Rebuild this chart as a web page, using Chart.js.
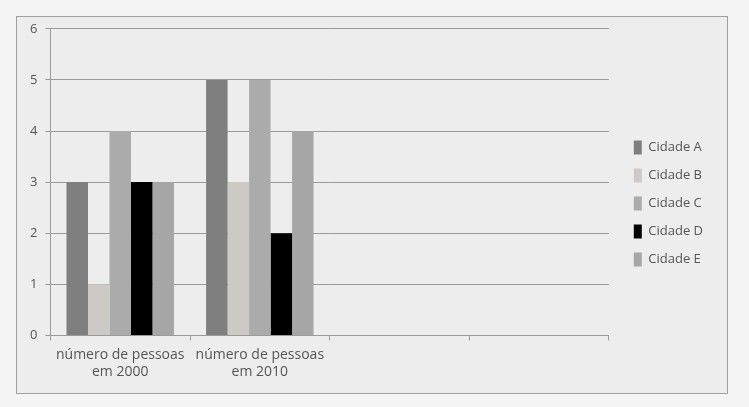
<!DOCTYPE html>
<html>
<head>
<meta charset="utf-8">
<script src="https://cdn.jsdelivr.net/npm/chart.js@4.4.1/dist/chart.umd.min.js"></script>
<style>
  html, body { margin: 0; padding: 0; background: #f4f4f4; }
  #frame {
    position: absolute; left: 16px; top: 16px;
    width: 710px; height: 376px;
    border: 1px solid #a0a0a0; background: #ededed;
  }
  #frame canvas { display: block; position: absolute; left: 0; top: -4px; }
</style>
</head>
<body>
<div id="frame"><canvas id="chart" width="710" height="380"></canvas></div>
<script>
// categories (last two slots are empty in the original)
const categories = [['número de pessoas', 'em 2000'], ['número de pessoas', 'em 2010'], '', ''];
const seriesNames = ['Cidade A', 'Cidade B', 'Cidade C', 'Cidade D', 'Cidade E'];
const cidadeA = [3, 5, null, null];
const cidadeB = [1, 3, null, null];
const cidadeC = [4, 5, null, null];
const cidadeD = [3, 2, null, null];
const cidadeE = [3, 4, null, null];
const yTicks = [0, 1, 2, 3, 4, 5, 6];

const colors = ['#7f7f7f', '#cdc9c4', '#ababab', '#000000', '#a6a6a6'];
const values = [cidadeA, cidadeB, cidadeC, cidadeD, cidadeE];

// push the legend a bit further right and down
const legendShift = {
    id: 'legendShift',
    afterLayout(chart) {
        chart.legend.left += 11;
        chart.legend.right += 11;
        chart.legend.top += 4;
        chart.legend.bottom += 4;
    }
};

const ctx = document.getElementById('chart').getContext('2d');
new Chart(ctx, {
    type: 'bar',
    data: {
        labels: categories,
        datasets: seriesNames.map((name, i) => ({
            label: name,
            data: values[i],
            backgroundColor: colors[i],
            borderWidth: 0,
            categoryPercentage: 0.77,
            barPercentage: 1.0
        }))
    },
    options: {
        responsive: false,
        animation: false,
        layout: { padding: { left: 5, top: 0, right: 25, bottom: 7 } },
        scales: {
            x: {
                grid: { display: true, drawOnChartArea: false, drawTicks: true, tickLength: 5, color: '#9a9a9a', offset: true },
                border: { color: '#9a9a9a' },
                ticks: { color: '#555', font: { family: 'Open Sans', size: 14 }, maxRotation: 0, autoSkip: false, padding: 6 }
            },
            y: {
                min: 0, max: 6,
                afterBuildTicks: axis => { axis.ticks = yTicks.map(v => ({ value: v })); },
                grid: { color: '#9a9a9a', tickLength: 5 },
                border: { color: '#9a9a9a' },
                ticks: { color: '#555', font: { family: 'Open Sans', size: 13 }, padding: 8 }
            }
        },
        plugins: {
            legend: {
                position: 'right',
                labels: {
                    color: '#555',
                    font: { family: 'Open Sans', size: 13 },
                    boxWidth: 8, boxHeight: 14, padding: 14
                }
            },
            tooltip: { enabled: false }
        }
    },
    plugins: [legendShift]
});
</script>
</body>
</html>
